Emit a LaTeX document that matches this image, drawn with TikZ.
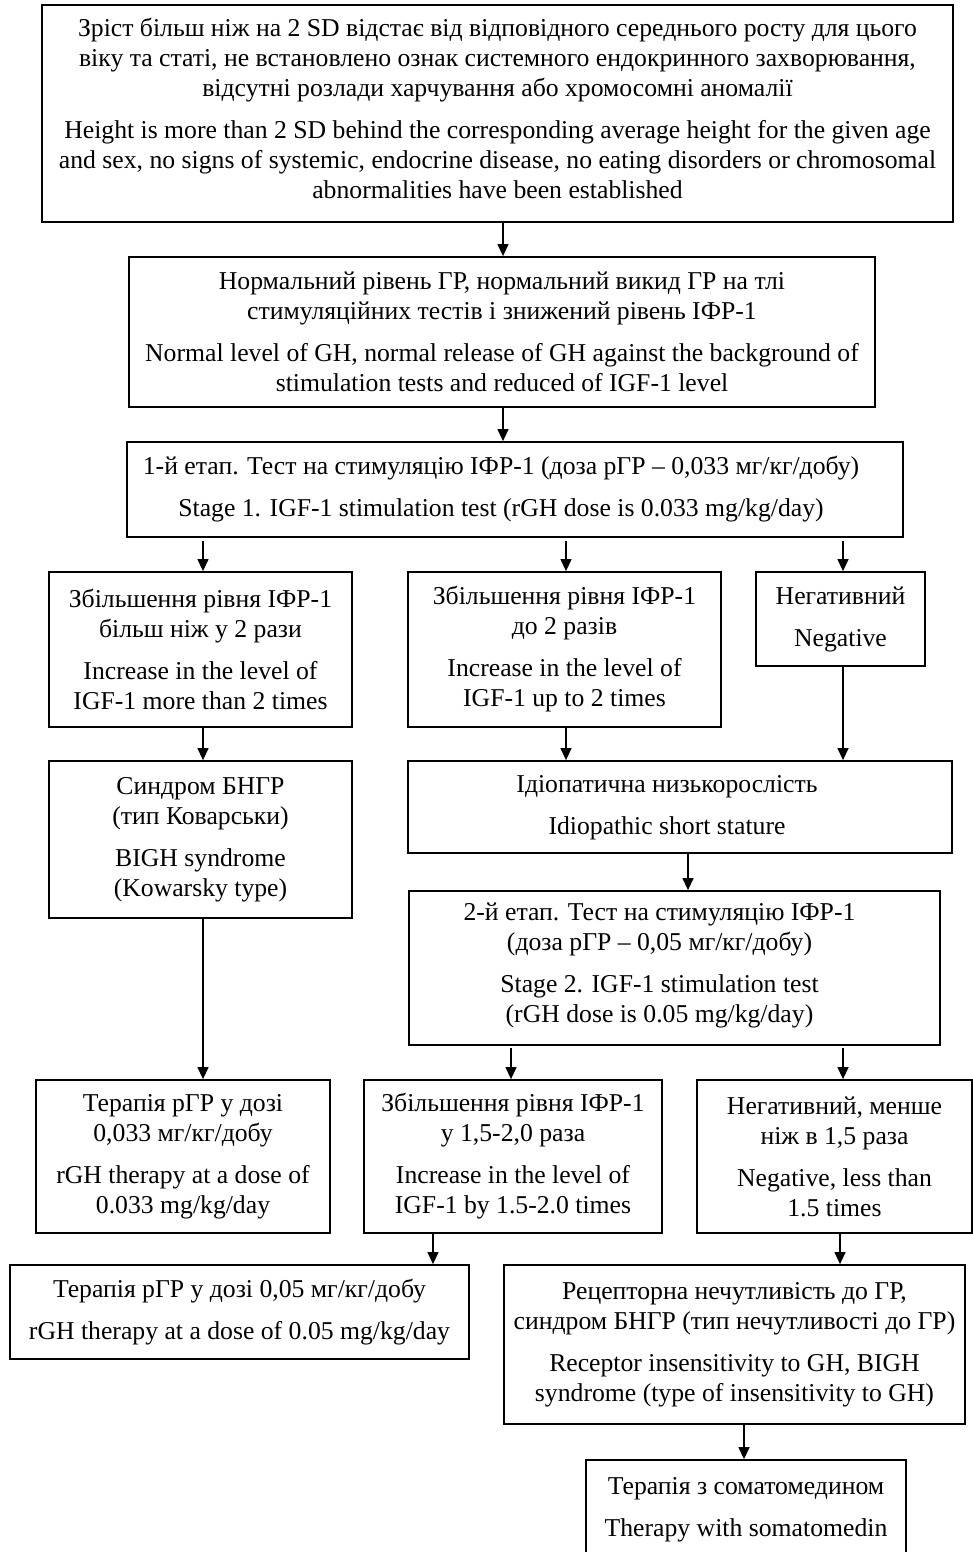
\documentclass[tikz,border=0pt]{standalone}
\usepackage{fontspec}
\setmainfont{Liberation Serif}
\usetikzlibrary{arrows.meta,calc}
\tikzset{
  box/.style={draw=black, line width=1.8pt, rectangle, inner sep=0pt, align=center,
    font=\fontsize{25.7}{30}\selectfont},
  arr/.style={draw=black, line width=1.3pt, -{Triangle[length=12pt,width=11pt]}},
}
\newcommand{\pgap}{\\[12pt]}
\newcommand{\shiftedtext}[3]{\raisebox{#2}[\height][\depth]{\hspace*{#1}\begin{tabular}{@{}c@{}}#3\end{tabular}\hspace*{-#1}}}
\begin{document}
\begin{tikzpicture}[x=1pt,y=-1pt]
\useasboundingbox (0,0) rectangle (973,1552);
\node[box, minimum width=911, minimum height=217] (b1) at (497.5,113.5) {\shiftedtext{0pt}{2pt}{Зріст більш ніж на 2 SD відстає від відповідного середнього росту для цього\\ віку та статі, не встановлено ознак системного ендокринного захворювання,\\ відсутні розлади харчування або хромосомні аномалії\pgap Height is more than 2 SD behind the corresponding average height for the given age\\ and sex, no signs of systemic, endocrine disease, no eating disorders or chromosomal\\ abnormalities have been established}};
\node[box, minimum width=746, minimum height=150] (b2) at (502,332) {Нормальний рівень ГР, нормальний викид ГР на тлі\\ стимуляційних тестів і знижений рівень ІФР-1\pgap Normal level of GH, normal release of GH against the background of\\ stimulation tests and reduced of IGF-1 level};
\node[box, minimum width=776, minimum height=95] (b3) at (515,489.5) {\shiftedtext{-14pt}{0pt}{1-й етап. Тест на стимуляцію ІФР-1 (доза рГР -- 0,033 мг/кг/добу)\pgap Stage 1. IGF-1 stimulation test (rGH dose is 0.033 mg/kg/day)}};
\node[box, minimum width=303, minimum height=155] (b4a) at (200.5,649.5) {Збільшення рівня ІФР-1\\ більш ніж у 2 рази\pgap Increase in the level of\\ IGF-1 more than 2 times};
\node[box, minimum width=313, minimum height=155] (b4b) at (564.5,649.5) {Збільшення рівня ІФР-1\\ до 2 разів\pgap Increase in the level of\\ IGF-1 up to 2 times};
\node[box, minimum width=169, minimum height=94] (b4c) at (840.5,619) {Негативний\pgap Negative};
\node[box, minimum width=303, minimum height=157] (b5a) at (200.5,839.5) {Синдром БНГР\\ (тип Коварськи)\pgap BIGH syndrome\\ (Kowarsky type)};
\node[box, minimum width=544, minimum height=92] (b5b) at (680,807) {\shiftedtext{-13pt}{0pt}{Ідіопатична низькорослість\pgap Idiopathic short stature}};
\node[box, minimum width=531, minimum height=154] (b6) at (674.5,968) {\shiftedtext{-15pt}{3pt}{2-й етап. Тест на стимуляцію ІФР-1\\ (доза рГР -- 0,05 мг/кг/добу)\pgap Stage 2. IGF-1 stimulation test\\ (rGH dose is 0.05 mg/kg/day)}};
\node[box, minimum width=294, minimum height=153] (b7a) at (183,1156.5) {Терапія рГР у дозі\\ 0,033 мг/кг/добу\pgap rGH therapy at a dose of\\ 0.033 mg/kg/day};
\node[box, minimum width=298, minimum height=153] (b7b) at (513,1156.5) {Збільшення рівня ІФР-1\\ у 1,5-2,0 раза\pgap Increase in the level of\\ IGF-1 by 1.5-2.0 times};
\node[box, minimum width=275, minimum height=153] (b7c) at (834.5,1156.5) {Негативний, менше\\ ніж в 1,5 раза\pgap Negative, less than\\ 1.5 times};
\node[box, minimum width=459, minimum height=94] (b8a) at (239.5,1312) {Терапія рГР у дозі 0,05 мг/кг/добу\pgap rGH therapy at a dose of 0.05 mg/kg/day};
\node[box, minimum width=461, minimum height=159] (b8b) at (734.5,1344.5) {Рецепторна нечутливість до ГР,\\ синдром БНГР (тип нечутливості до ГР)\pgap Receptor insensitivity to GH, BIGH\\ syndrome (type of insensitivity to GH)};
\node[box, minimum width=320, minimum height=100] (b9) at (746,1510) {Терапія з соматомедином\pgap Therapy with somatomedin};
\draw[arr] (503,0 |- b1.south) -- (503,0 |- b2.north);
\draw[arr] (503,0 |- b2.south) -- (503,0 |- b3.north);
\draw[arr] ($(203,0 |- b3.south)+(0,3)$) -- (203,0 |- b4a.north);
\draw[arr] ($(566,0 |- b3.south)+(0,3)$) -- (566,0 |- b4b.north);
\draw[arr] ($(843,0 |- b3.south)+(0,3)$) -- (843,0 |- b4c.north);
\draw[arr] (203,0 |- b4a.south) -- (203,0 |- b5a.north);
\draw[arr] (566,0 |- b4b.south) -- (566,0 |- b5b.north);
\draw[arr] (843,0 |- b4c.south) -- (843,0 |- b5b.north);
\draw[arr] (688,0 |- b5b.south) -- (688,0 |- b6.north);
\draw[arr] (203,0 |- b5a.south) -- (203,0 |- b7a.north);
\draw[arr] ($(511,0 |- b6.south)+(0,2)$) -- (511,0 |- b7b.north);
\draw[arr] ($(843,0 |- b6.south)+(0,2)$) -- (843,0 |- b7c.north);
\draw[arr] (433,0 |- b7b.south) -- (433,0 |- b8a.north);
\draw[arr] (840,0 |- b7c.south) -- (840,0 |- b8b.north);
\draw[arr] (744,0 |- b8b.south) -- (744,0 |- b9.north);
\end{tikzpicture}
\end{document}
